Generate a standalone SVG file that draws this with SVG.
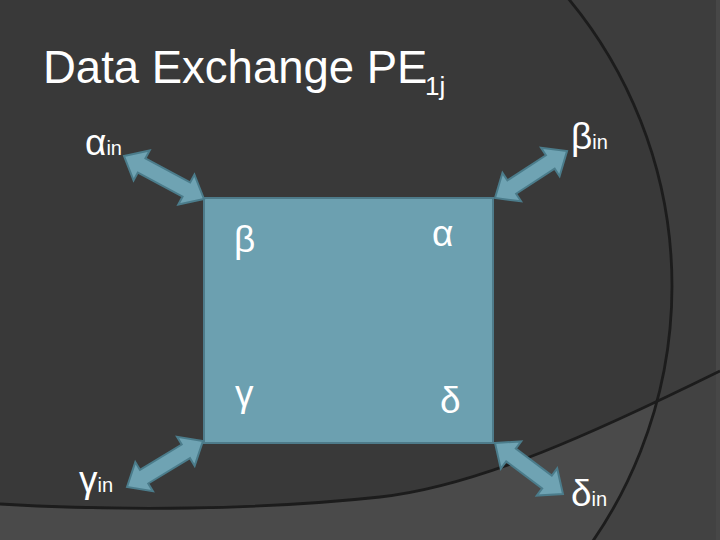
<svg xmlns="http://www.w3.org/2000/svg" width="720" height="540" viewBox="0 0 720 540">
  <style>
    .t { font-family: "Liberation Sans", Arial, sans-serif; fill: #ffffff; }
    .g { font-size: 37px; }
    .s { font-size: 20px; }
    .arrow { fill: #6fa3b3; stroke: #4b7c8b; stroke-width: 2; stroke-linejoin: miter; }
    .line { fill: none; stroke: #1c1c1c; stroke-width: 2.8; }
  </style>
  <defs>
    <path id="lowerRegion" d="M0,504 C120,511 260,510 380,497 C480,486 600,430 720,371 L720,540 L0,540 Z"/>
    <clipPath id="clipLower">
      <use href="#lowerRegion"/>
    </clipPath>
  </defs>

  <g id="background">
    <rect x="0" y="0" width="720" height="540" fill="#3d3d3d"/>
    <circle cx="222" cy="286" r="450" fill="#393939"/>
    <use href="#lowerRegion" fill="#424242"/>
    <circle cx="222" cy="286" r="450" fill="#4a4a4a" clip-path="url(#clipLower)"/>
    <rect x="716" y="0" width="4" height="540" fill="#474747"/>
    <circle class="line" cx="222" cy="286" r="450"/>
    <path class="line" d="M0,504 C120,511 260,510 380,497 C480,486 600,430 720,371"/>
  </g>

  <g id="title">
    <text class="t" x="43" y="83" font-size="45.5">Data Exchange PE<tspan x="425" y="95" font-size="26">1j</tspan></text>
  </g>

  <g id="pe-box">
    <rect x="204" y="198" width="289" height="245" fill="#6ca0b0" stroke="#4e7b8a" stroke-width="2"/>
    <text class="t g" x="234" y="252">β</text>
    <text class="t g" x="432" y="246">α</text>
    <text class="t g" x="235" y="406">γ</text>
    <text class="t g" x="440" y="413">δ</text>
  </g>

  <g id="connectors">
    <path class="arrow" transform="translate(124,156) rotate(28.26)" d="M0,0 L20,-17 L20,-8 L70.8,-8 L70.8,-17 L90.8,0 L70.8,17 L70.8,8 L20,8 L20,17 Z"/>
    <path class="arrow" transform="translate(495,198) rotate(-33.1)" d="M0,0 L20,-17 L20,-8 L66,-8 L66,-17 L86,0 L66,17 L66,8 L20,8 L20,17 Z"/>
    <path class="arrow" transform="translate(127,487) rotate(-31.2)" d="M0,0 L20,-17 L20,-8 L68.8,-8 L68.8,-17 L88.8,0 L68.8,17 L68.8,8 L20,8 L20,17 Z"/>
    <path class="arrow" transform="translate(495,443) rotate(36.9)" d="M0,0 L20,-17 L20,-8 L65,-8 L65,-17 L85,0 L65,17 L65,8 L20,8 L20,17 Z"/>
  </g>

  <g id="alpha-in">
    <text class="t g" x="85" y="155">α<tspan class="s">in</tspan></text>
  </g>
  <g id="beta-in">
    <text class="t g" x="571" y="149">β<tspan class="s">in</tspan></text>
  </g>
  <g id="gamma-in">
    <text class="t g" x="79" y="492">γ<tspan class="s">in</tspan></text>
  </g>
  <g id="delta-in">
    <text class="t g" x="571" y="506">δ<tspan class="s">in</tspan></text>
  </g>
</svg>
